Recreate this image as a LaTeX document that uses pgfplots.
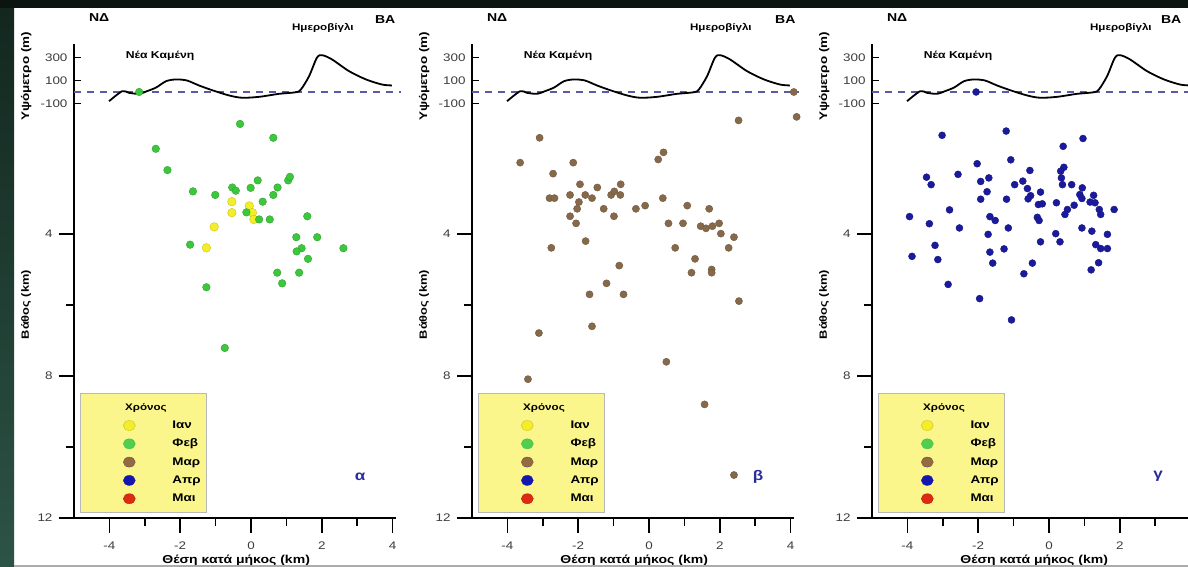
\documentclass[border=0pt]{standalone}
\usepackage{fontspec}
\setmainfont{Liberation Sans}[FakeStretch=1.22]
\usepackage{pgfplots}
\usepackage{pgfplotstable}
\pgfplotsset{compat=1.18}

\definecolor{bgdark}{HTML}{0C1411}
\definecolor{bgtop}{HTML}{13271F}
\definecolor{bgbot}{HTML}{2C5446}
\definecolor{cJan}{HTML}{F2EE2A}
\definecolor{cJanEdge}{HTML}{D2C214}
\definecolor{cFeb}{HTML}{3CC83C}
\definecolor{cMar}{HTML}{86694A}
\definecolor{cApr}{HTML}{1A1A9C}
\definecolor{cMay}{HTML}{DD2A10}
\definecolor{sealine}{HTML}{5A5AA8}
\definecolor{legfill}{HTML}{FAF68C}
\definecolor{letterblue}{HTML}{2B2B9E}
\definecolor{ticktext}{HTML}{3C3C3C}

% topography along the section: x (km), h (m)
\pgfplotstableread{
x h
-4.01 -80
-3.64 7
-3.45 -7
-3.16 -16
-2.94 7
-2.68 39
-2.40 94
-2.12 109
-1.81 100
-1.47 57
-1.10 16
-0.62 -30
-0.25 -50
0.23 -42
0.79 -16
1.27 -2
1.41 22
1.64 137
1.86 297
2.01 320
2.29 283
2.77 181
3.25 109
3.70 65
3.98 57
}\topo

% events: x (km), z (km, negative = below sea level)
\pgfplotstableread{
x z
-0.54 -3.09
-0.54 -3.40
-0.05 -3.21
0.04 -3.40
0.08 -3.59
-1.04 -3.80
-1.26 -4.39
}\jan

\pgfplotstableread{
x z
-3.16 0.00
-0.31 -0.90
0.63 -1.29
-2.69 -1.60
-2.36 -2.20
-1.64 -2.80
-1.01 -2.90
-0.53 -2.69
-0.43 -2.78
-0.01 -2.70
0.19 -2.49
0.75 -2.69
0.63 -2.90
1.05 -2.49
1.10 -2.39
0.33 -3.09
-0.13 -3.39
0.23 -3.59
0.53 -3.59
1.59 -3.50
1.28 -4.09
1.87 -4.09
2.61 -4.40
1.43 -4.40
1.29 -4.49
1.61 -4.70
0.74 -5.09
1.36 -5.09
0.88 -5.39
-1.72 -4.30
-1.26 -5.50
-0.74 -7.21
}\feb

\pgfplotstableread{
x z
4.09 0.00
4.17 -0.70
2.53 -0.80
-3.09 -1.29
-3.64 -1.99
-2.14 -1.99
0.41 -1.70
0.26 -1.90
-2.71 -2.30
-1.95 -2.60
-1.46 -2.69
-0.80 -2.60
-2.81 -2.99
-2.67 -2.99
-2.23 -2.90
-1.80 -2.90
-1.61 -2.99
-1.98 -3.10
-2.03 -3.29
-2.23 -3.50
-2.06 -3.70
-1.07 -2.90
-0.98 -2.80
-0.81 -2.90
-1.28 -3.29
-0.99 -3.50
-0.37 -3.29
-0.11 -3.20
0.39 -2.99
1.08 -3.20
1.70 -3.29
0.55 -3.70
0.96 -3.70
1.46 -3.78
1.61 -3.84
1.79 -3.78
1.98 -3.70
2.03 -3.99
2.40 -4.09
2.25 -4.39
0.74 -4.39
1.30 -4.70
1.20 -5.09
1.77 -5.00
1.77 -5.09
-1.79 -4.20
-2.76 -4.39
-0.84 -4.89
-1.20 -5.39
-1.68 -5.70
-0.72 -5.70
2.54 -5.89
-3.11 -6.79
-1.61 -6.60
0.49 -7.60
-3.42 -8.09
1.57 -8.80
2.40 -10.79
}\mar

\pgfplotstableread{
x z
-2.06 0.00
-3.02 -1.22
-1.21 -1.10
-1.08 -1.91
-2.03 -2.02
-2.57 -2.32
-3.46 -2.40
-3.33 -2.61
-1.93 -2.52
-1.70 -2.42
-1.75 -2.81
-1.93 -3.02
-1.20 -3.02
-0.97 -2.61
-0.54 -2.21
-0.74 -2.51
-0.61 -2.72
-0.52 -2.92
-0.59 -3.01
-0.24 -2.82
-0.30 -3.17
-0.19 -3.15
0.21 -3.12
-0.33 -3.53
-0.28 -3.62
-0.24 -4.22
-0.47 -4.82
-0.71 -5.12
-2.81 -3.32
-3.94 -3.51
-3.38 -3.71
-2.53 -3.83
-1.67 -3.51
-1.52 -3.62
-1.15 -3.83
-1.72 -4.01
-3.22 -4.32
-3.87 -4.63
-3.14 -4.72
-1.67 -4.51
-1.27 -4.42
-1.59 -4.82
-2.85 -5.42
-1.96 -5.82
-1.06 -6.42
0.96 -1.31
0.40 -1.53
0.42 -2.12
0.33 -2.23
0.35 -2.42
0.38 -2.61
0.64 -2.61
0.94 -2.70
0.87 -2.89
0.93 -3.00
1.26 -2.91
1.16 -3.10
1.30 -3.12
1.42 -3.31
1.46 -3.45
1.84 -3.31
0.71 -3.19
0.52 -3.31
0.45 -3.45
0.93 -3.83
1.21 -3.92
1.65 -4.01
0.19 -3.99
0.31 -4.22
1.32 -4.30
1.46 -4.41
1.65 -4.41
1.40 -4.81
1.19 -5.01
}\apr

\pgfplotsset{
  section/.style={
    x=35.4pt, y=35.5pt,
    xmin=-5, xmax=4.1, ymin=-12, ymax=1.34,
    axis x line*=bottom, axis y line*=left,
    axis line style={line width=2pt, black},
    clip=false,
    xtick={-4,-2,0,2,4},
    minor xtick={-3,-1,1,3},
    ytick={-12,-8,-4},
    yticklabels={12,8,4},
    minor ytick={-10,-6},
    extra y ticks={0.972,0.324,-0.324},
    extra y tick labels={300,100,-100},
    extra y tick style={tick align=inside, major tick length=7pt},
    tick align=outside,
    major tick length=15pt, minor tick length=8pt,
    tick style={line width=1.6pt, black},
    /pgf/number format/assume math mode=true,
    tick label style={font=\fontsize{11}{13}\selectfont, text=ticktext},
    xticklabel style={yshift=-5pt},
    yticklabel style={xshift=-3pt},
    legend cell align=left,
    legend style={at={(0,0)}, anchor=south west, xshift=6pt, yshift=5pt,
      draw=gray!55, fill=legfill, line width=0.6pt,
      inner xsep=5pt, inner ysep=7pt, row sep=4.3pt, column sep=36pt,
      font=\bfseries\fontsize{11}{13}\selectfont,
      nodes={inner sep=1pt, text height=9pt, text depth=3pt}},
  },
  monthimg/.style 2 args={legend image code/.code={
      \path[draw=none, fill=none] (-44pt,0pt) -- (0pt,0pt);
      \fill[#1, draw=#2, line width=0.4pt] (0pt,0pt) ellipse (6pt and 5pt);}},
  quake/.style 2 args={only marks, mark=*,
    mark options={fill=#1, draw=#2, line width=0.4pt}},
}

\newcommand{\sealevel}{%
  \addplot[sealine, line width=1.3pt, dash pattern=on 7pt off 6pt, forget plot]
    coordinates {(-5,0) (4.25,0)};
  \addplot[black, line width=1.8pt, smooth, forget plot]
    table[x=x, y expr=0.00324*\thisrow{h}] {\topo};
}
\newcommand{\legendentries}{%
  \addlegendimage{empty legend}
  \addlegendentry{\hspace*{-52pt}\fontsize{9.5}{11}\selectfont Χρόνος}
  \addlegendimage{monthimg={cJan}{cJanEdge}}\addlegendentry{Ιαν}
  \addlegendimage{monthimg={cFeb!90!white}{cFeb}}\addlegendentry{Φεβ}
  \addlegendimage{monthimg={cMar!90!orange}{cMar!80!black}}\addlegendentry{Μαρ}
  \addlegendimage{monthimg={cApr!80!blue}{cApr}}\addlegendentry{Απρ}
  \addlegendimage{monthimg={cMay}{cMay!80!black}}\addlegendentry{Μαι}
}
% #1 panel letter, #2 position of the right-hand "ΒΑ"
\newcommand{\sectiontexts}[2]{%
  \node[font=\bfseries\fontsize{11.5}{13}\selectfont] at (axis cs:-4.29,2.09) {ΝΔ};
  \node[font=\bfseries\fontsize{11.5}{13}\selectfont] at (axis cs:#2,2.03) {ΒΑ};
  \node[font=\bfseries\fontsize{9.5}{11}\selectfont] at (axis cs:2.03,1.80) {Ημεροβίγλι};
  \node[font=\bfseries\fontsize{10}{12}\selectfont] at (axis cs:-2.57,1.03) {Νέα Καμένη};
  \node[rotate=90, font=\bfseries\fontsize{11}{13}\selectfont] at (axis cs:-6.35,0.44) {Υψόμετρο (m)};
  \node[rotate=90, font=\bfseries\fontsize{10.5}{13}\selectfont] at (axis cs:-6.35,-5.99) {Βάθος (km)};
  \node[font=\bfseries\fontsize{11.5}{14}\selectfont] at (axis cs:-0.42,-13.2) {Θέση κατά μήκος (km)};
  \node[font=\bfseries\fontsize{14}{17}\selectfont, text=letterblue] at (axis cs:3.08,-10.83) {#1};
}

\begin{document}
\begin{tikzpicture}
\useasboundingbox (0,0) rectangle (1188pt,-567pt);
\clip (0,0) rectangle (1188pt,-567pt);
\fill[white] (0,0) rectangle (1188pt,-567pt);
\fill[bgdark] (0,0) rectangle (1188pt,-8pt);
\shade[top color=bgtop, bottom color=bgbot] (0,-8pt) rectangle (14pt,-567pt);
\fill[bgdark] (0,0) rectangle (14pt,-8pt);

% (α) January-February
\begin{axis}[section, at={(74pt,-518pt)}, anchor=south west]
  \sealevel
  \legendentries
  \addplot[quake={cJan}{cJanEdge}, mark size=4.3pt, forget plot] table[x=x, y=z] {\jan};
  \addplot[quake={cFeb}{cFeb!80!black}, mark size=3.8pt, forget plot] table[x=x, y=z] {\feb};
  \sectiontexts{α}{3.79}
\end{axis}

% (β) March
\begin{axis}[section, at={(472pt,-518pt)}, anchor=south west]
  \sealevel
  \legendentries
  \addplot[quake={cMar}{cMar!85!black}, mark size=3.6pt, forget plot] table[x=x, y=z] {\mar};
  \sectiontexts{β}{3.85}
\end{axis}

% (γ) April; the right end of this section lies outside the picture
\begin{axis}[section, at={(872pt,-518pt)}, anchor=south west, xtick={-4,-2,0,2}]
  \sealevel
  \legendentries
  \addplot[quake={cApr}{cApr!85!black}, mark size=3.5pt, forget plot] table[x=x, y=z] {\apr};
  \sectiontexts{γ}{3.45}
\end{axis}

\fill[gray!65] (14pt,-565pt) rectangle (1188pt,-567pt);
\end{tikzpicture}
\end{document}
